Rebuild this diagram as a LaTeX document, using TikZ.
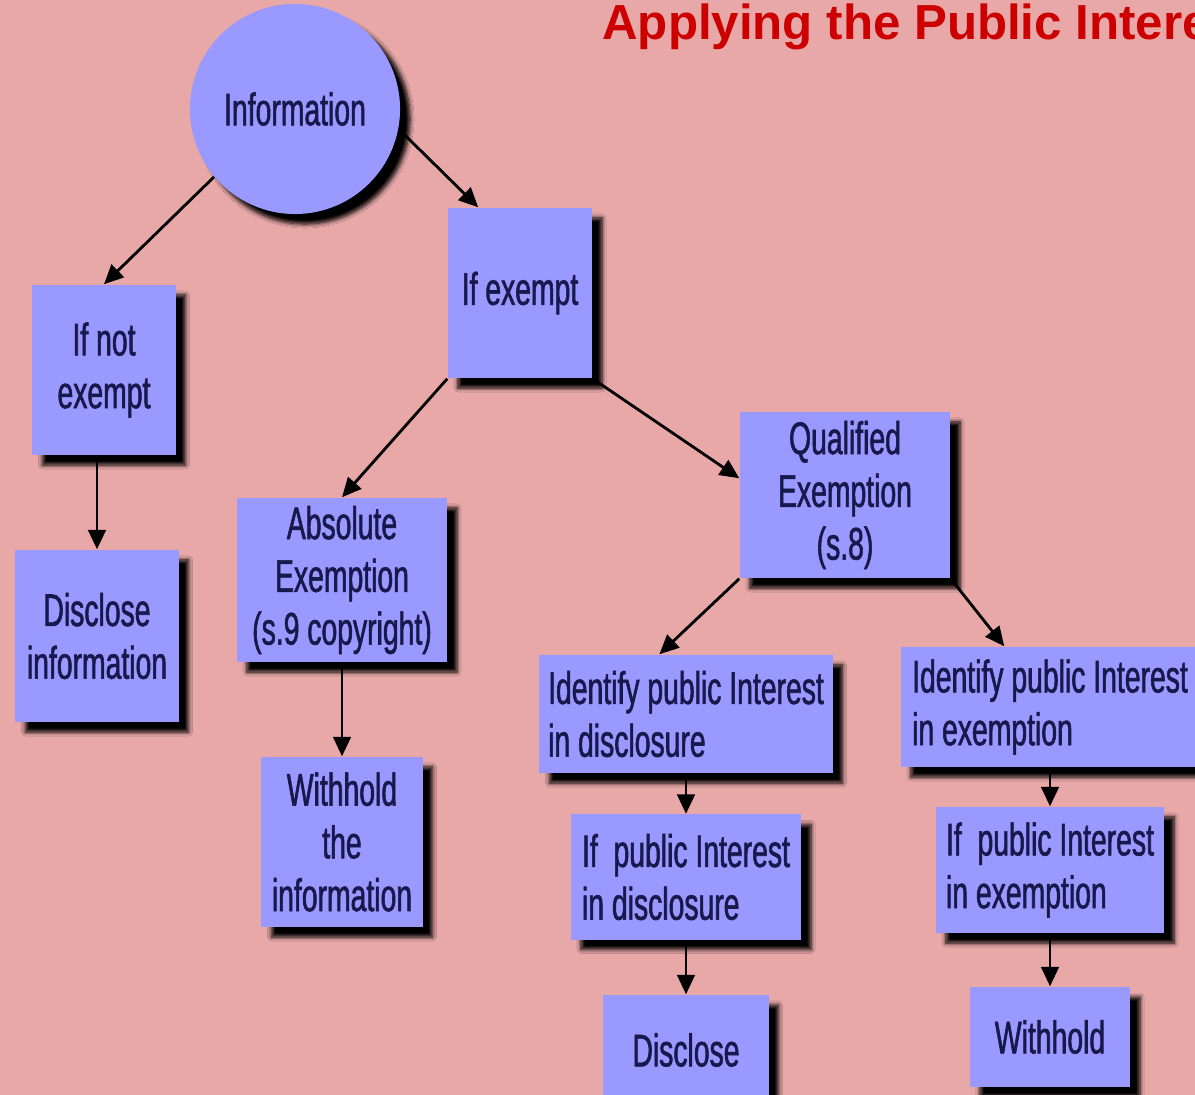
\documentclass[tikz,border=0pt]{standalone}
\usepackage{fontspec}
\setmainfont[FakeStretch=0.62, FakeBold=1.2]{Liberation Sans}
\newfontfamily\titlefont{Liberation Sans}
\usepackage{tikz}
\usetikzlibrary{arrows.meta, shadows.blur}
\definecolor{bgpink}{RGB}{232,168,168}
\definecolor{boxblue}{RGB}{153,153,255}
\definecolor{textnavy}{RGB}{24,24,76}
\definecolor{titlered}{RGB}{204,0,0}

\begin{document}
\begin{tikzpicture}[x=0.01cm, y=-0.01cm,
        every node/.style={font=\fontsize{13}{15}\selectfont, text=textnavy},
        box/.style={rectangle, fill=boxblue, align=center, inner sep=0pt,
            blur shadow={shadow xshift=0.1cm, shadow yshift=-0.1cm, shadow blur radius=0.04cm, shadow opacity=100, shadow blur steps=6}},
        link/.style={-{Triangle[length=5.5pt, width=5pt]}, line width=0.8pt}]
            \useasboundingbox (0, 0) rectangle (1195, 1095);
            \fill[bgpink] (0, 0) rectangle (1195, 1095);
            \clip (0, 0) rectangle (1195, 1095);

            \node[anchor=base west, text=titlered, font=\titlefont\fontsize{14}{17}\selectfont\bfseries] at (590, 40) (title) {Applying the Public Interest};

            \node[box, circle, minimum size=2.1cm] at (295, 109) (info) {Information};
            \node[box, minimum width=1.43cm, minimum height=1.70cm] at (104, 370) (notex) {If not\\exempt};
            \node[box, minimum width=1.63cm, minimum height=1.72cm] at (97, 636) (discinfo) {Disclose\\information};
            \node[box, minimum width=1.44cm, minimum height=1.70cm] at (520, 293) (ifex) {If exempt};
            \node[box, minimum width=2.10cm, minimum height=1.64cm] at (342, 580) (abs) {Absolute\\Exemption\\(s.9 copyright)};
            \node[box, minimum width=1.61cm, minimum height=1.70cm] at (342, 842) (wthinfo) {Withhold\\the\\information};
            \node[box, minimum width=2.10cm, minimum height=1.66cm] at (845, 495) (qual) {Qualified\\Exemption\\(s.8)};
            \node[box, align=left, minimum width=2.93cm, minimum height=1.18cm] at (686, 714) (iddisc) {Identify public Interest\\in disclosure};
            \node[box, align=left, minimum width=2.98cm, minimum height=1.20cm] at (1050, 707) (idex) {Identify public Interest\\in exemption};
            \node[box, align=left, minimum width=2.30cm, minimum height=1.25cm] at (686, 877) (ifdisc) {If~ public Interest\\in disclosure};
            \node[box, align=left, minimum width=2.28cm, minimum height=1.26cm] at (1050, 870) (ifexm) {If~ public Interest\\in exemption};
            \node[box, minimum width=1.65cm, minimum height=1.10cm] at (686, 1050) (disc) {Disclose};
            \node[box, minimum width=1.60cm, minimum height=1.00cm] at (1050, 1037) (wth) {Withhold};

            \draw [link] (info.220) -- (notex.north);
            \draw [link] (info.-11) -- (ifex.116);
            \draw [link] (notex.south -| discinfo) -- (discinfo.north);
            \draw [link] (ifex.south west) -- (abs.north);
            \draw [link] (ifex.south east) -- (qual.171);
            \draw [link] (abs.south) -- (wthinfo.north);
            \draw [link] (qual.south west) -- (iddisc.114);
            \draw [link] (qual.south east) -- (idex.127);
            \draw [link] (iddisc.south) -- (ifdisc.north);
            \draw [link] (ifdisc.south) -- (disc.north);
            \draw [link] (idex.south) -- (ifexm.north);
            \draw [link] (ifexm.south) -- (wth.north);
        \end{tikzpicture}
\end{document}
